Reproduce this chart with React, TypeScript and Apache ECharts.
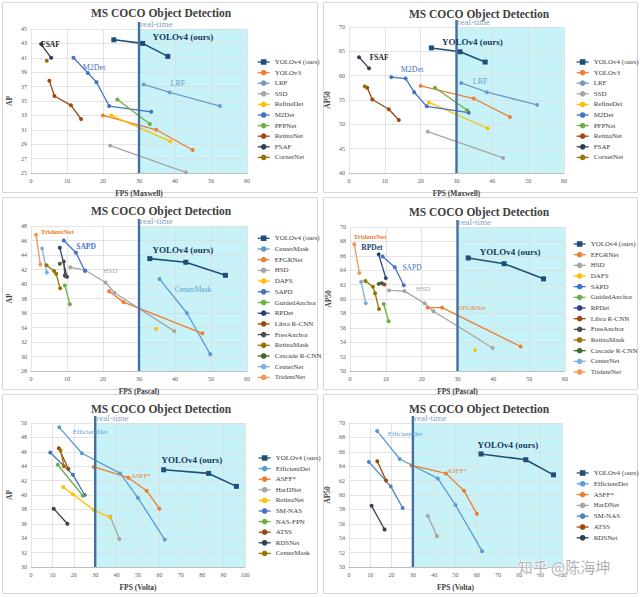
import React, { useEffect, useRef } from 'react';
import * as echarts from 'echarts';

const SERIF = '"Liberation Serif", "Times New Roman", serif';
const CJK = '"Noto Sans CJK SC", sans-serif';

// ---------------- Panel 1 : FPS (Maxwell) vs AP ----------------
const P1_NAMES = ['YOLOv4 (ours)', 'YOLOv3', 'LRF', 'SSD', 'RefineDet', 'M2Det', 'PFPNet', 'RetinaNet', 'FSAF', 'CornerNet'];
const P1_YOLOV4 = [[23, 43.5], [31, 43.0], [38, 41.2]];
const P1_YOLOV3 = [[20, 33.0], [34.8, 31.0], [44.9, 28.2]];
const P1_LRF = [[31.3, 37.3], [38.5, 36.2], [52.5, 34.3]];
const P1_SSD = [[22, 28.8], [43, 25.1]];
const P1_REFINEDET = [[22.3, 33.0], [38.7, 29.4]];
const P1_M2DET = [[11.8, 41.0], [15.8, 38.9], [18.2, 37.6], [21.7, 34.3], [33.4, 33.5]];
const P1_PFPNET = [[24, 35.2], [33, 31.8]];
const P1_RETINANET = [[5.1, 37.8], [6.5, 35.7], [11.1, 34.4], [13.9, 32.5]];
const P1_FSAF = [[2.8, 42.9], [5.6, 41.0]];
const P1_CORNERNET = [[4.4, 40.6]];

// ---------------- Panel 2 : FPS (Maxwell) vs AP50 ----------------
const P2_NAMES = P1_NAMES;
const P2_YOLOV4 = [[23, 65.7], [31, 64.9], [38, 62.8]];
const P2_YOLOV3 = [[20, 57.9], [34.8, 55.3], [44.9, 51.5]];
const P2_LRF = [[31.3, 58.5], [38.5, 56.6], [52.5, 54.0]];
const P2_SSD = [[22, 48.5], [43, 43.1]];
const P2_REFINEDET = [[22.3, 54.5], [38.7, 49.2]];
const P2_M2DET = [[11.8, 59.7], [15.8, 59.4], [18.2, 56.6], [21.7, 53.7], [33.4, 52.4]];
const P2_PFPNET = [[24, 57.5], [33, 52.9]];
const P2_RETINANET = [[5.1, 57.5], [6.5, 55.1], [11.1, 53.1], [13.9, 50.9]];
const P2_FSAF = [[2.8, 63.8], [5.6, 61.5]];
const P2_CORNERNET = [[4.4, 57.8]];

// ---------------- Panel 3 : FPS (Pascal) vs AP ----------------
const P3_NAMES = ['YOLOv4 (ours)', 'CenterMask', 'EFGRNet', 'HSD', 'DAFS', 'SAPD', 'GuidedAnchor', 'RPDet', 'Libra R-CNN', 'FreeAnchor', 'RetinaMask', 'Cascade R-CNN', 'CenterNet', 'TridentNet'];
const P3_YOLOV4 = [[33, 43.5], [43, 43.0], [54, 41.2]];
const P3_CENTERMASK = [[35.7, 40.7], [43.3, 36.0], [49.8, 30.3]];
const P3_EFGRNET = [[21.7, 39.0], [25.7, 37.5], [47.6, 33.2]];
const P3_HSD = [[10.9, 42.3], [15.1, 41.9], [20.7, 40.2], [23.2, 38.8], [39.8, 33.5]];
const P3_DAFS = [[34.8, 33.8]];
const P3_SAPD = [[9.1, 46.0], [12.5, 44.3], [15.0, 41.8]];
const P3_GUIDEDANCHOR = [[9.4, 39.8], [10.8, 37.2]];
const P3_RPDET = [[8.0, 45.0], [10.0, 41.0]];
const P3_LIBRA = [[9.5, 41.1]];
const P3_FREEANCHOR = [[9.1, 43.1], [9.4, 41.2]];
const P3_RETINAMASK = [[4.3, 42.6], [6.4, 41.8], [7.0, 41.4], [8.1, 39.4]];
const P3_CASCADE = [[8.0, 42.8]];
const P3_CENTERNET = [[3.1, 44.9], [4.4, 41.6]];
const P3_TRIDENTNET = [[1.4, 46.8], [2.6, 42.7]];

// ---------------- Panel 4 : FPS (Pascal) vs AP50 ----------------
const P4_NAMES = ['YOLOv4 (ours)', 'EFGRNet', 'HSD', 'DAFS', 'SAPD', 'GuidedAnchor', 'RPDet', 'Libra R-CNN', 'FreeAnchor', 'RetinaMask', 'Cascade R-CNN', 'CenterNet', 'TridentNet'];
const P4_YOLOV4 = [[33, 65.7], [43, 64.9], [54, 62.8]];
const P4_EFGRNET = [[21.7, 58.8], [25.7, 58.8], [47.6, 53.4]];
const P4_HSD = [[10.9, 61.2], [15.2, 61.1], [20.8, 59.4], [23.3, 58.3], [39.8, 53.2]];
const P4_DAFS = [[34.9, 52.9]];
const P4_SAPD = [[9.1, 65.9], [12.5, 64.4], [15.0, 61.9]];
const P4_GUIDEDANCHOR = [[9.4, 59.3], [10.8, 56.9]];
const P4_RPDET = [[8.0, 66.2], [10.0, 62.9]];
const P4_LIBRA = [[9.6, 62.0]];
const P4_FREEANCHOR = [[8.9, 62.2]];
const P4_RETINAMASK = [[4.3, 62.5], [6.4, 61.7], [7.0, 60.8], [8.1, 58.6]];
const P4_CASCADE = [[8.0, 62.1]];
const P4_CENTERNET = [[3.1, 62.4], [4.4, 59.4]];
const P4_TRIDENTNET = [[1.2, 67.6], [2.6, 63.6]];

// ---------------- Panel 5 : FPS (Volta) vs AP ----------------
const P5_NAMES = ['YOLOv4 (ours)', 'EfficientDet', 'ASFF*', 'HarDNet', 'RetinaNet', 'SM-NAS', 'NAS-FPN', 'ATSS', 'RDSNet', 'CenterMask'];
const P5_YOLOV4 = [[62, 43.5], [83, 43.0], [96, 41.2]];
const P5_EFFICIENTDET = [[13.2, 49.4], [23.8, 45.8], [41.7, 43.0], [50, 39.6], [62.5, 33.8]];
const P5_ASFF = [[29.4, 43.9], [45.5, 42.4], [54, 40.6], [60, 38.1]];
const P5_HARDNET = [[37, 37.0], [41.3, 33.9]];
const P5_RETINANET = [[15.1, 41.1], [19.5, 40.1], [29.4, 37.9], [36.9, 36.9]];
const P5_SMNAS = [[9.0, 45.9], [19.6, 42.8], [25.1, 40.0]];
const P5_NASFPN = [[12.5, 44.2], [24.2, 39.9]];
const P5_ATSS = [[13.0, 46.5], [17.5, 43.6]];
const P5_RDSNET = [[10.6, 38.1], [17, 36.0]];
const P5_CENTERMASK = [[13.8, 46.2], [15.4, 44.0]];

// ---------------- Panel 6 : FPS (Volta) vs AP50 ----------------
const P6_NAMES = ['YOLOv4 (ours)', 'EfficientDet', 'ASFF*', 'HarDNet', 'SM-NAS', 'ATSS', 'RDSNet'];
const P6_YOLOV4 = [[62, 65.7], [83, 64.9], [96, 62.8]];
const P6_EFFICIENTDET = [[13.2, 68.9], [23.8, 65.0], [41.7, 62.3], [50, 58.6], [62.5, 52.2]];
const P6_ASFF = [[29.4, 64.1], [45.5, 63.0], [54, 60.6], [60, 57.4]];
const P6_HARDNET = [[37, 57.1], [41.3, 54.3]];
const P6_SMNAS = [[9.3, 64.6], [19.6, 61.2], [25.2, 58.2]];
const P6_ATSS = [[13.3, 64.7], [17.4, 62.0]];
const P6_RDSNET = [[10.6, 58.5], [16.7, 55.2]];

// ---------------- axes (ranges / tick steps / names) ----------------
const X_MAX = [60, 60, 60, 60, 100, 100];
const X_NAMES = ['FPS (Maxwell)', 'FPS (Maxwell)', 'FPS (Pascal)', 'FPS (Pascal)', 'FPS (Volta)', 'FPS (Volta)'];
const Y_MIN = [25, 40, 28, 50, 30, 50];
const Y_MAX = [45, 70, 48, 70, 50, 70];
const Y_STEP = [2, 5, 2, 2, 2, 2];
const Y_NAMES = ['AP', 'AP50', 'AP', 'AP50', 'AP', 'AP50'];
const REALTIME_FPS = 30;
const TITLE = 'MS COCO Object Detection';

// ---------------- styles ----------------
const YOLO = '#1F4E79';
const P1_COLORS = [YOLO, '#ED7D31', '#6F9ACB', '#A5A5A5', '#FFC000', '#4472C4', '#70AD47', '#9E480E', '#333F50', '#997300'];
const P3_COLORS = [YOLO, '#5B9BD5', '#ED7D31', '#A5A5A5', '#FFC000', '#4472C4', '#70AD47', '#264478', '#9E480E', '#4D4D4D', '#997300', '#43682B', '#7CAFDD', '#F1975A'];
const P4_COLORS = [YOLO, '#ED7D31', '#A5A5A5', '#FFC000', '#4472C4', '#70AD47', '#264478', '#9E480E', '#4D4D4D', '#997300', '#43682B', '#7CAFDD', '#F1975A'];
const P5_COLORS = [YOLO, '#5B9BD5', '#ED7D31', '#A5A5A5', '#FFC000', '#4472C4', '#70AD47', '#9E480E', '#333F50', '#997300'];
const P6_COLORS = [YOLO, '#5B9BD5', '#ED7D31', '#A5A5A5', '#4F81BD', '#9E480E', '#333F50'];
const CYAN = '#C7F3F8';

const PANELS = [
  { names: P1_NAMES, colors: P1_COLORS, data: [P1_YOLOV4, P1_YOLOV3, P1_LRF, P1_SSD, P1_REFINEDET, P1_M2DET, P1_PFPNET, P1_RETINANET, P1_FSAF, P1_CORNERNET] },
  { names: P2_NAMES, colors: P1_COLORS, data: [P2_YOLOV4, P2_YOLOV3, P2_LRF, P2_SSD, P2_REFINEDET, P2_M2DET, P2_PFPNET, P2_RETINANET, P2_FSAF, P2_CORNERNET] },
  { names: P3_NAMES, colors: P3_COLORS, data: [P3_YOLOV4, P3_CENTERMASK, P3_EFGRNET, P3_HSD, P3_DAFS, P3_SAPD, P3_GUIDEDANCHOR, P3_RPDET, P3_LIBRA, P3_FREEANCHOR, P3_RETINAMASK, P3_CASCADE, P3_CENTERNET, P3_TRIDENTNET] },
  { names: P4_NAMES, colors: P4_COLORS, data: [P4_YOLOV4, P4_EFGRNET, P4_HSD, P4_DAFS, P4_SAPD, P4_GUIDEDANCHOR, P4_RPDET, P4_LIBRA, P4_FREEANCHOR, P4_RETINAMASK, P4_CASCADE, P4_CENTERNET, P4_TRIDENTNET] },
  { names: P5_NAMES, colors: P5_COLORS, data: [P5_YOLOV4, P5_EFFICIENTDET, P5_ASFF, P5_HARDNET, P5_RETINANET, P5_SMNAS, P5_NASFPN, P5_ATSS, P5_RDSNET, P5_CENTERMASK] },
  { names: P6_NAMES, colors: P6_COLORS, data: [P6_YOLOV4, P6_EFFICIENTDET, P6_ASFF, P6_HARDNET, P6_SMNAS, P6_ATSS, P6_RDSNET] },
];

// ---------------- layout (pixels) ----------------
const LAYOUT = [
  { grid: { left: 31, top: 29, width: 216, height: 144 }, legend: [257, 58.5, 3.6], title: [161, 13], card: [2, 2, 315, 190] },
  { grid: { left: 349, top: 27, width: 215, height: 146 }, legend: [576, 58.5, 3.6], title: [479, 14], card: [323, 2, 314, 190] },
  { grid: { left: 31, top: 226, width: 216, height: 145 }, legend: [257, 234.8, 3.7], title: [161, 211], card: [2, 197, 315, 192] },
  { grid: { left: 350, top: 227, width: 215, height: 144 }, legend: [573, 240.5, 3.67], title: [479, 212], card: [323, 197, 314, 192] },
  { grid: { left: 31, top: 423, width: 214, height: 144 }, legend: [258, 454.5, 3.6], title: [161, 409], card: [2, 394, 315, 199] },
  { grid: { left: 349, top: 423, width: 213, height: 144 }, legend: [576, 469.5, 3.8], title: [479, 409], card: [323, 394, 314, 199] },
];

// annotations, positioned in data coordinates of each panel
const NOTES = [
  [
    { text: 'FSAF', x: 5.4, y: 42.9, color: '#262626', bold: true, size: 7.5 },
    { text: 'M2Det', x: 17.5, y: 39.7, color: '#4472C4', bold: false, size: 8 },
    { text: 'LRF', x: 40.8, y: 37.5, color: '#6F9ACB', bold: false, size: 8 },
    { text: 'YOLOv4 (ours)', x: 42.2, y: 43.9, color: '#17375E', bold: true, size: 9 },
  ],
  [
    { text: 'FSAF', x: 8.4, y: 63.8, color: '#262626', bold: true, size: 7.5 },
    { text: 'M2Det', x: 17.6, y: 61.2, color: '#4472C4', bold: false, size: 8 },
    { text: 'LRF', x: 36.6, y: 58.7, color: '#6F9ACB', bold: false, size: 8 },
    { text: 'YOLOv4 (ours)', x: 34.4, y: 66.9, color: '#17375E', bold: true, size: 9 },
  ],
  [
    { text: 'TridentNet', x: 7.3, y: 47.2, color: '#ED7D31', bold: true, size: 7 },
    { text: 'SAPD', x: 15.3, y: 45.2, color: '#4472C4', bold: true, size: 7.5 },
    { text: 'HSD', x: 22.0, y: 41.8, color: '#A5A5A5', bold: false, size: 7 },
    { text: 'YOLOv4 (ours)', x: 42.2, y: 44.7, color: '#17375E', bold: true, size: 9 },
    { text: 'CenterMask', x: 45.0, y: 39.3, color: '#5B9BD5', bold: false, size: 7.5 },
  ],
  [
    { text: 'TridentNet', x: 5.6, y: 68.6, color: '#ED7D31', bold: true, size: 7 },
    { text: 'RPDet', x: 6.1, y: 67.1, color: '#264478', bold: true, size: 7.5 },
    { text: 'SAPD', x: 17.3, y: 64.4, color: '#4472C4', bold: false, size: 7.5 },
    { text: 'HSD', x: 20.4, y: 61.4, color: '#A5A5A5', bold: false, size: 7 },
    { text: 'EFGRNet', x: 34.0, y: 58.75, color: '#ED7D31', bold: false, size: 7 },
    { text: 'YOLOv4 (ours)', x: 44.7, y: 66.5, color: '#17375E', bold: true, size: 9 },
  ],
  [
    { text: 'EfficientDet', x: 27.6, y: 48.75, color: '#5B9BD5', bold: false, size: 7 },
    { text: 'ASFF*', x: 51.4, y: 42.6, color: '#ED7D31', bold: false, size: 7 },
    { text: 'YOLOv4 (ours)', x: 75.2, y: 44.9, color: '#17375E', bold: true, size: 9 },
  ],
  [
    { text: 'EfficientDet', x: 26.3, y: 68.5, color: '#5B9BD5', bold: false, size: 7 },
    { text: 'ASFF*', x: 50.7, y: 63.3, color: '#ED7D31', bold: false, size: 7 },
    { text: 'YOLOv4 (ours)', x: 74.6, y: 66.9, color: '#17375E', bold: true, size: 9 },
  ],
];

function buildOption() {
  const grid: any[] = [];
  const xAxis: any[] = [];
  const yAxis: any[] = [];
  const legend: any[] = [];
  const series: any[] = [];

  PANELS.forEach((p, i) => {
    const L = LAYOUT[i];
    grid.push({ ...L.grid, containLabel: false });
    xAxis.push({
      gridIndex: i, type: 'value', min: 0, max: X_MAX[i], interval: 10, z: 2,
      name: X_NAMES[i], nameLocation: 'middle', nameGap: 16,
      nameTextStyle: { fontFamily: SERIF, fontSize: 7.5, fontWeight: 'bold', color: '#404040' },
      axisLine: { show: true, lineStyle: { color: '#BFBFBF', width: 1 } },
      axisTick: { show: false },
      axisLabel: { fontFamily: SERIF, fontSize: 6, color: '#595959', margin: 5 },
      splitLine: { show: true, lineStyle: { color: '#DDDDDD', width: 0.8 } },
    });
    const min = Y_MIN[i];
    const step = Y_STEP[i];
    yAxis.push({
      gridIndex: i, type: 'value', min, max: Y_MAX[i], interval: step, z: 2,
      name: Y_NAMES[i], nameLocation: 'middle', nameGap: 18, nameRotate: 90,
      nameTextStyle: { fontFamily: SERIF, fontSize: 7.5, fontWeight: 'bold', color: '#404040' },
      axisLine: { show: false },
      axisTick: { show: false },
      axisLabel: {
        fontFamily: SERIF, fontSize: 6, color: '#595959', margin: 4,
        formatter: (v: number) => (Math.abs(((v - min) / step) - Math.round((v - min) / step)) < 1e-6 ? String(v) : ''),
      },
      splitLine: { show: true, lineStyle: { color: '#DDDDDD', width: 0.8 } },
    });
    legend.push({
      orient: 'vertical', left: L.legend[0], top: L.legend[1], itemGap: L.legend[2],
      itemWidth: 12, itemHeight: 7, padding: 0, selectedMode: false,
      textStyle: { fontFamily: SERIF, fontSize: 7, color: '#404040', lineHeight: 7 },
      data: p.names.map((name, k) => ({
        name, itemStyle: { color: p.colors[k] }, lineStyle: { color: p.colors[k], width: 1.3 },
      })),
    });
    p.names.forEach((name, k) => {
      const isYolo = k === 0;
      series.push({
        type: 'line', name, xAxisIndex: i, yAxisIndex: i, data: p.data[k],
        symbol: isYolo ? 'rect' : 'circle', symbolSize: isYolo ? 5 : 4,
        showSymbol: true, showAllSymbol: true, clip: false, silent: true, z: 3,
        lineStyle: { color: p.colors[k], width: isYolo ? 1.6 : 1.3 },
        itemStyle: { color: p.colors[k] },
        markArea: isYolo ? {
          silent: true, z: 1, label: { show: false },
          itemStyle: { color: CYAN },
          data: [[{ xAxis: REALTIME_FPS }, { xAxis: X_MAX[i] }]],
        } : undefined,
      });
    });
  });

  return { animation: false, backgroundColor: '#ffffff', grid, xAxis, yAxis, legend, series, tooltip: { show: false } };
}

function buildGraphics(chart: any) {
  const els: any[] = [];
  LAYOUT.forEach((L, i) => {
    els.push({
      type: 'rect', z: -10, silent: true,
      shape: { x: L.card[0] + 0.5, y: L.card[1] + 0.5, width: L.card[2], height: L.card[3] },
      style: { fill: '#ffffff', stroke: '#D6D6D6', lineWidth: 1 },
    });
    els.push({
      type: 'text', z: 10, x: L.title[0], y: L.title[1], silent: true,
      style: { text: TITLE, fill: '#404040', fontFamily: SERIF, fontSize: 11.5, fontWeight: 'bold', align: 'center', verticalAlign: 'middle' },
    });
    const bottom = chart.convertToPixel({ gridIndex: i }, [REALTIME_FPS, Y_MIN[i]]);
    const top = chart.convertToPixel({ gridIndex: i }, [REALTIME_FPS, Y_MAX[i]]);
    els.push({
      type: 'line', z: 6, silent: true,
      shape: { x1: bottom[0], y1: bottom[1], x2: top[0], y2: top[1] - 7 },
      style: { stroke: '#41719C', lineWidth: 2.4 },
    });
    els.push({
      type: 'text', z: 10, x: top[0] + 1, y: top[1] - 5, silent: true,
      style: { text: 'real-time', fill: '#7F9FC4', fontFamily: SERIF, fontSize: 9, align: 'left', verticalAlign: 'middle' },
    });
    NOTES[i].forEach((n) => {
      const pt = chart.convertToPixel({ gridIndex: i }, [n.x, n.y]);
      els.push({
        type: 'text', z: 10, x: pt[0], y: pt[1], silent: true,
        style: {
          text: n.text, fill: n.color, fontFamily: SERIF, fontSize: n.size,
          fontWeight: n.bold ? 'bold' : 'normal', align: 'center', verticalAlign: 'middle',
        },
      });
    });
  });
  els.push({
    type: 'text', z: 20, x: 564, y: 566, silent: true,
    style: {
      text: '知乎 @陈海坤', fill: 'rgba(150,150,150,0.75)', fontFamily: CJK, fontSize: 15,
      align: 'center', verticalAlign: 'middle', stroke: '#ffffff', lineWidth: 1,
    },
  });
  return els;
}

export default function App() {
  const ref = useRef<HTMLDivElement>(null);
  useEffect(() => {
    document.body.style.margin = '0';
    const chart = echarts.init(ref.current as HTMLDivElement, null, { renderer: 'svg' });
    chart.setOption(buildOption());
    chart.setOption({ graphic: { elements: buildGraphics(chart) } });
    return () => chart.dispose();
  }, []);
  return <div ref={ref} style={{ width: 640, height: 597, background: '#ffffff' }} />;
}
